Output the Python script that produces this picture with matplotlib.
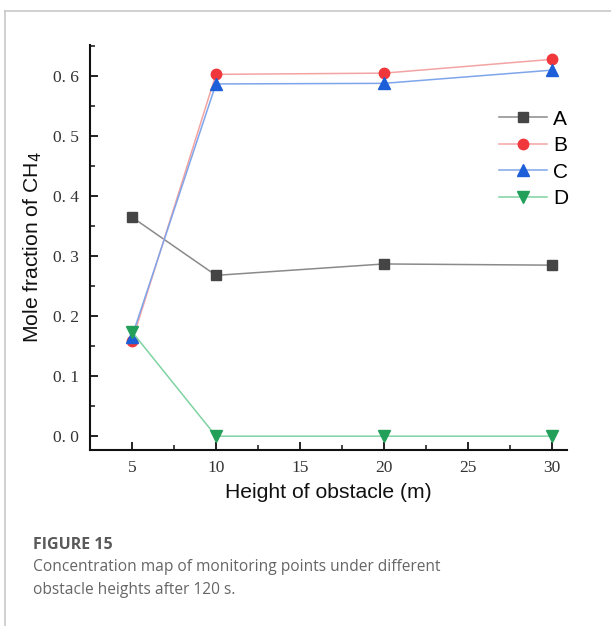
import matplotlib
matplotlib.use("Agg")
import matplotlib.pyplot as plt
from matplotlib.lines import Line2D
from matplotlib.ticker import FixedLocator, FixedFormatter, MultipleLocator

# data
heights = [5, 10, 20, 30]
point_a = [0.365, 0.268, 0.287, 0.285]
point_b = [0.158, 0.603, 0.605, 0.628]
point_c = [0.166, 0.587, 0.588, 0.610]
point_d = [0.174, 0.0, 0.0, 0.0]

series_names = ["A", "B", "C", "D"]
x_ticks = [5, 10, 15, 20, 25, 30]
y_ticks = [0.0, 0.1, 0.2, 0.3, 0.4, 0.5, 0.6]
y_tick_labels = ["0. 0", "0. 1", "0. 2", "0. 3", "0. 4", "0. 5", "0. 6"]

fig = plt.figure(figsize=(6.11, 6.26), dpi=100)
ax = fig.add_axes([0.1473, 0.2812, 0.7807, 0.6470])

styles = [
    ("s", "#454545", "#8a8a8a", 6.5),
    ("o", "#f0383c", "#f4a3a3", 7.5),
    ("^", "#1c5fd8", "#7fa5ea", 8),
    ("v", "#22a05a", "#7fd3a2", 8),
]
for vals, name, (mk, mcol, lcol, ms) in zip([point_a, point_b, point_c, point_d], series_names, styles):
    ax.plot(heights, vals, color=lcol, lw=1.1, marker=mk, markersize=ms,
            markerfacecolor=mcol, markeredgecolor=mcol, label=name)

ax.set_xlim(2.5, 30.9)
ax.set_ylim(-0.023, 0.652)

for side in ["top", "right"]:
    ax.spines[side].set_visible(False)
for side in ["left", "bottom"]:
    ax.spines[side].set_linewidth(1.5)
    ax.spines[side].set_color("#111111")

ax.xaxis.set_major_locator(FixedLocator(x_ticks))
ax.xaxis.set_minor_locator(MultipleLocator(2.5))
ax.yaxis.set_major_locator(FixedLocator(y_ticks))
ax.yaxis.set_major_formatter(FixedFormatter(y_tick_labels))
ax.yaxis.set_minor_locator(MultipleLocator(0.05))
ax.tick_params(which="major", direction="in", length=6, width=1.3, color="#111111",
               labelsize=12.5, labelcolor="#333333")
ax.tick_params(axis="y", which="major", pad=8)
ax.tick_params(axis="x", which="major", pad=7)
ax.tick_params(which="minor", direction="in", length=3.5, width=1.1, color="#111111")
for lab in ax.get_xticklabels() + ax.get_yticklabels():
    lab.set_family("Liberation Serif")

ax.set_xlabel("Height of obstacle (m)", fontsize=15.2, family="Liberation Sans", color="#111111")
ax.set_ylabel("Mole fraction of CH$_4$", fontsize=15.2, family="Liberation Sans", color="#111111")
ax.xaxis.set_label_coords(0.5, -0.104)
ax.yaxis.set_label_coords(-0.12, 0.5)
ax.xaxis.label.set_va("center")
ax.yaxis.label.set_va("center")

leg = ax.legend(loc="upper left", bbox_to_anchor=(0.858, 0.84), frameon=False,
                prop={"family": "Liberation Sans", "size": 15}, handlelength=2.3,
                handletextpad=0.3, labelspacing=0.36, borderpad=0, borderaxespad=0)

# light frame around the figure panel
fig.add_artist(Line2D([0.0074, 0.0074], [0.0, 0.9824], color="#c8c8c8", lw=1.2))
fig.add_artist(Line2D([0.0074, 1.0], [0.9824, 0.9824], color="#c8c8c8", lw=1.2))

fig.text(0.054, 1 - 545 / 626, "FIGURE 15", fontsize=11.5, fontweight="bold",
         family="Open Sans", color="#595959", va="center")
fig.text(0.054, 1 - 567 / 626, "Concentration map of monitoring points under different",
         fontsize=11.2, family="Open Sans", color="#666666", va="center")
fig.text(0.054, 1 - 590 / 626, "obstacle heights after 120 s.",
         fontsize=11.2, family="Open Sans", color="#666666", va="center")

fig.savefig("out.png", dpi=100)
